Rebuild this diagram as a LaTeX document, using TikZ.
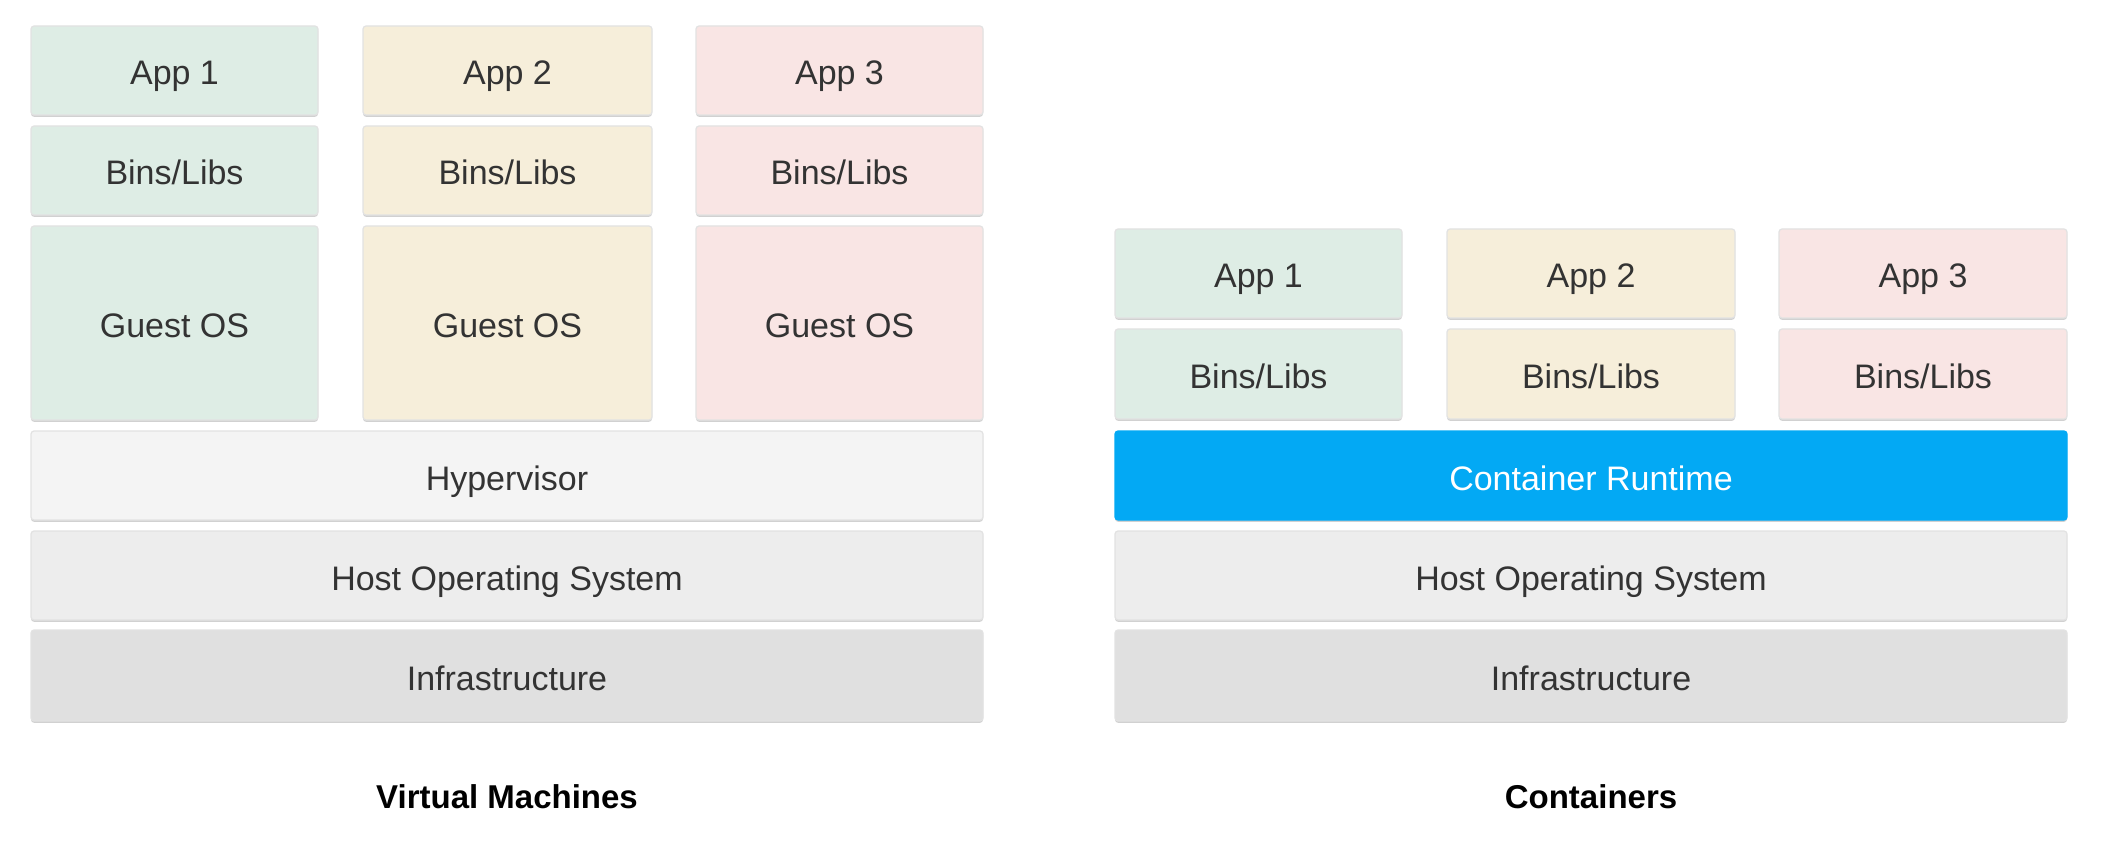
\documentclass[tikz,border=0pt]{standalone}
\usepackage{fontspec}
\setmainfont{Liberation Sans}
\usetikzlibrary{shadows}
\definecolor{cgreen}{RGB}{222,237,229}
\definecolor{ccream}{RGB}{246,238,218}
\definecolor{cpink}{RGB}{249,229,228}
\definecolor{chyper}{RGB}{244,244,244}
\definecolor{chost}{RGB}{237,237,237}
\definecolor{cinfra}{RGB}{224,224,224}
\definecolor{cruntime}{RGB}{3,169,244}
\definecolor{ctext}{RGB}{51,51,51}
\definecolor{cedge}{RGB}{226,226,226}
\newcommand\blk[7]{%
  \node[blk, fill=#6, minimum width={(#4-#2)*0.5pt}, minimum height={(#5-#3)*0.5pt}]
    (#1) at ({(#2+#4)/2},{(#3+#5)/2}) {#7};}
\begin{document}
\begin{tikzpicture}[x=0.5pt, y=-0.5pt,
  blk/.style={draw=cedge, line width=0.6pt, rounded corners=1.5pt, inner sep=0pt,
    text=ctext, font=\fontsize{17}{20}\selectfont, text height=14.5pt, text depth=0pt,
    drop shadow={shadow xshift=0pt, shadow yshift=-0.9pt, opacity=0.18, fill=black}},
  caption/.style={font=\fontsize{16.5}{20}\selectfont\bfseries, text=black, inner sep=0pt}]
\useasboundingbox[fill=white] (0,0) rectangle (2124,844);
% Virtual machines
\blk{va1}{31}{26}{318}{115}{cgreen}{App 1}
\blk{va2}{363}{26}{652}{115}{ccream}{App 2}
\blk{va3}{696}{26}{983}{115}{cpink}{App 3}
\blk{vb1}{31}{126}{318}{215}{cgreen}{Bins/Libs}
\blk{vb2}{363}{126}{652}{215}{ccream}{Bins/Libs}
\blk{vb3}{696}{126}{983}{215}{cpink}{Bins/Libs}
\blk{vg1}{31}{226}{318}{420}{cgreen}{Guest OS}
\blk{vg2}{363}{226}{652}{420}{ccream}{Guest OS}
\blk{vg3}{696}{226}{983}{420}{cpink}{Guest OS}
\blk{vhyp}{31}{431}{983}{520}{chyper}{Hypervisor}
\blk{vhost}{31}{531}{983}{620}{chost}{Host Operating System}
\blk{vinf}{31}{630}{983}{721}{cinfra}{Infrastructure}
\node[caption] (vlab) at (507,797) {Virtual Machines};
% Containers
\blk{ca1}{1115}{229}{1402}{318}{cgreen}{App 1}
\blk{ca2}{1447}{229}{1735}{318}{ccream}{App 2}
\blk{ca3}{1779}{229}{2067}{318}{cpink}{App 3}
\blk{cb1}{1115}{329}{1402}{419}{cgreen}{Bins/Libs}
\blk{cb2}{1447}{329}{1735}{419}{ccream}{Bins/Libs}
\blk{cb3}{1779}{329}{2067}{419}{cpink}{Bins/Libs}
\node[blk, fill=cruntime, draw=cruntime, text=white, minimum width={(2067-1115)*0.5pt}, minimum height={(520-431)*0.5pt}]
  (crun) at ({(1115+2067)/2},{(431+520)/2}) {Container Runtime};
\blk{chost}{1115}{531}{2067}{620}{chost}{Host Operating System}
\blk{cinf}{1115}{630}{2067}{721}{cinfra}{Infrastructure}
\node[caption] (clab) at (1591,797) {Containers};
\end{tikzpicture}
\end{document}
